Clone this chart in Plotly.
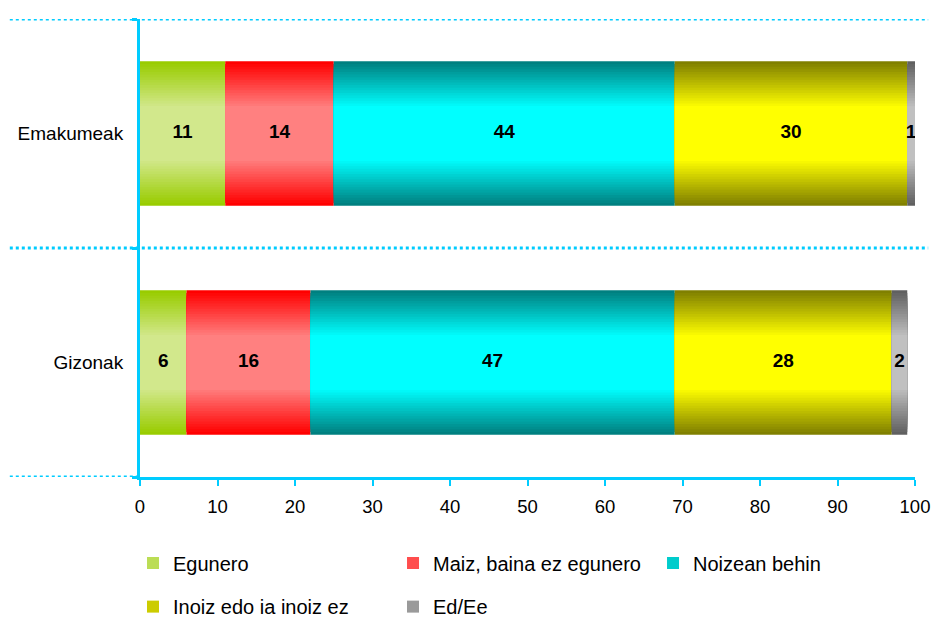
import plotly.graph_objects as go

categories = ["Emakumeak", "Gizonak"]
series_names = ["Egunero", "Maiz, baina ez egunero", "Noizean behin", "Inoiz edo ia inoiz ez", "Ed/Ee"]
egunero = [11, 6]
maiz = [14, 16]
noizean = [44, 47]
inoiz = [30, 28]
ed_ee = [1, 2]
x_ticks = [0, 10, 20, 30, 40, 50, 60, 70, 80, 90, 100]

# (edge colour, middle colour) of the vertical gradient of each series
edge_cols = ["#99CC00", "#FF0000", "#008080", "#808000", "#606060"]
mid_cols = ["#D2E88C", "#FF8080", "#00FFFF", "#FFFF00", "#C0C0C0"]

AX = "#00CCFF"
FONT = "Liberation Sans, Arial, sans-serif"


def hex2rgb(h):
    h = h.lstrip("#")
    return tuple(int(h[i:i + 2], 16) for i in (0, 2, 4))


def lerp(c1, c2, t):
    a, b = hex2rgb(c1), hex2rgb(c2)
    return "rgb(%d,%d,%d)" % tuple(round(a[i] + (b[i] - a[i]) * t) for i in range(3))


all_series = [egunero, maiz, noizean, inoiz, ed_ee]
fig = go.Figure()

BAR_W = 0.63
N_STEPS = 18
bases = [0.0] * len(categories)
text_x, text_y, text_s = [], [], []
for k, (name, vals) in enumerate(zip(series_names, all_series)):
    for j in range(N_STEPS):
        t = j / (N_STEPS - 1)
        w = BAR_W * (1 - 0.62 * t)
        fig.add_trace(go.Bar(
            y=categories, x=vals, base=list(bases), orientation="h",
            width=w, marker=dict(color=lerp(edge_cols[k], mid_cols[k], t), line=dict(width=0)),
            name=name, showlegend=False, hoverinfo="skip",
        ))
    # legend entry (small gradient-coloured square)
    fig.add_trace(go.Scatter(
        x=[None], y=[None], mode="markers", name=name,
        marker=dict(symbol="square", size=12, color=lerp(edge_cols[k], mid_cols[k], 0.6)),
        legend="legend" if k < 3 else "legend2", showlegend=True,
    ))
    for i, c in enumerate(categories):
        text_x.append(bases[i] + vals[i] / 2)
        text_y.append(c)
        text_s.append(str(vals[i]))
    bases = [b + v for b, v in zip(bases, vals)]

fig.add_trace(go.Scatter(
    x=text_x, y=text_y, text=text_s, mode="text", showlegend=False,
    textfont=dict(family=FONT, size=19, color="black", weight="bold"),
    hoverinfo="skip",
))

shapes = []
for yb, x0, x1 in [(1.5, -0.168, 1.017), (0.5, -0.168, 1.017), (-0.5, -0.168, 0.0)]:
    shapes.append(dict(type="line", xref="paper", yref="y", x0=x0, x1=x1, y0=yb, y1=yb,
                       line=dict(color=AX, width=3, dash="dot"), layer="below"))

fig.update_layout(
    width=932, height=619,
    margin=dict(l=140, r=17, t=19, b=142, autoexpand=False),
    paper_bgcolor="white", plot_bgcolor="white",
    barmode="overlay",
    font=dict(family=FONT, size=18, color="black"),
    shapes=shapes,
    xaxis=dict(range=[0, 100], tickvals=x_ticks, showgrid=False, zeroline=False,
               showline=True, linecolor=AX, linewidth=3, automargin=False,
               ticks="outside", ticklen=6, tickwidth=2, tickcolor=AX,
               tickfont=dict(size=18.5), ticklabelstandoff=5),
    yaxis=dict(type="category", categoryorder="array", categoryarray=categories[::-1],
               range=[-0.5, 1.5], showgrid=False, zeroline=False, automargin=False,
               showline=True, linecolor=AX, linewidth=3,
               ticks="outside", tickson="boundaries", ticklen=5, tickwidth=3, tickcolor=AX,
               tickfont=dict(size=19), ticklabelstandoff=10),
    legend=dict(orientation="h", x=-0.009, y=-0.188, xanchor="left", yanchor="middle",
                entrywidth=215, entrywidthmode="pixels", font=dict(size=20),
                bgcolor="rgba(0,0,0,0)", itemclick=False),
    legend2=dict(orientation="h", x=-0.009, y=-0.283, xanchor="left", yanchor="middle",
                 entrywidth=215, entrywidthmode="pixels", font=dict(size=20),
                 bgcolor="rgba(0,0,0,0)", itemclick=False),
    showlegend=True,
)

fig.write_html("out.html", config={"displayModeBar": False},
               post_script="document.body.style.margin='0';")
